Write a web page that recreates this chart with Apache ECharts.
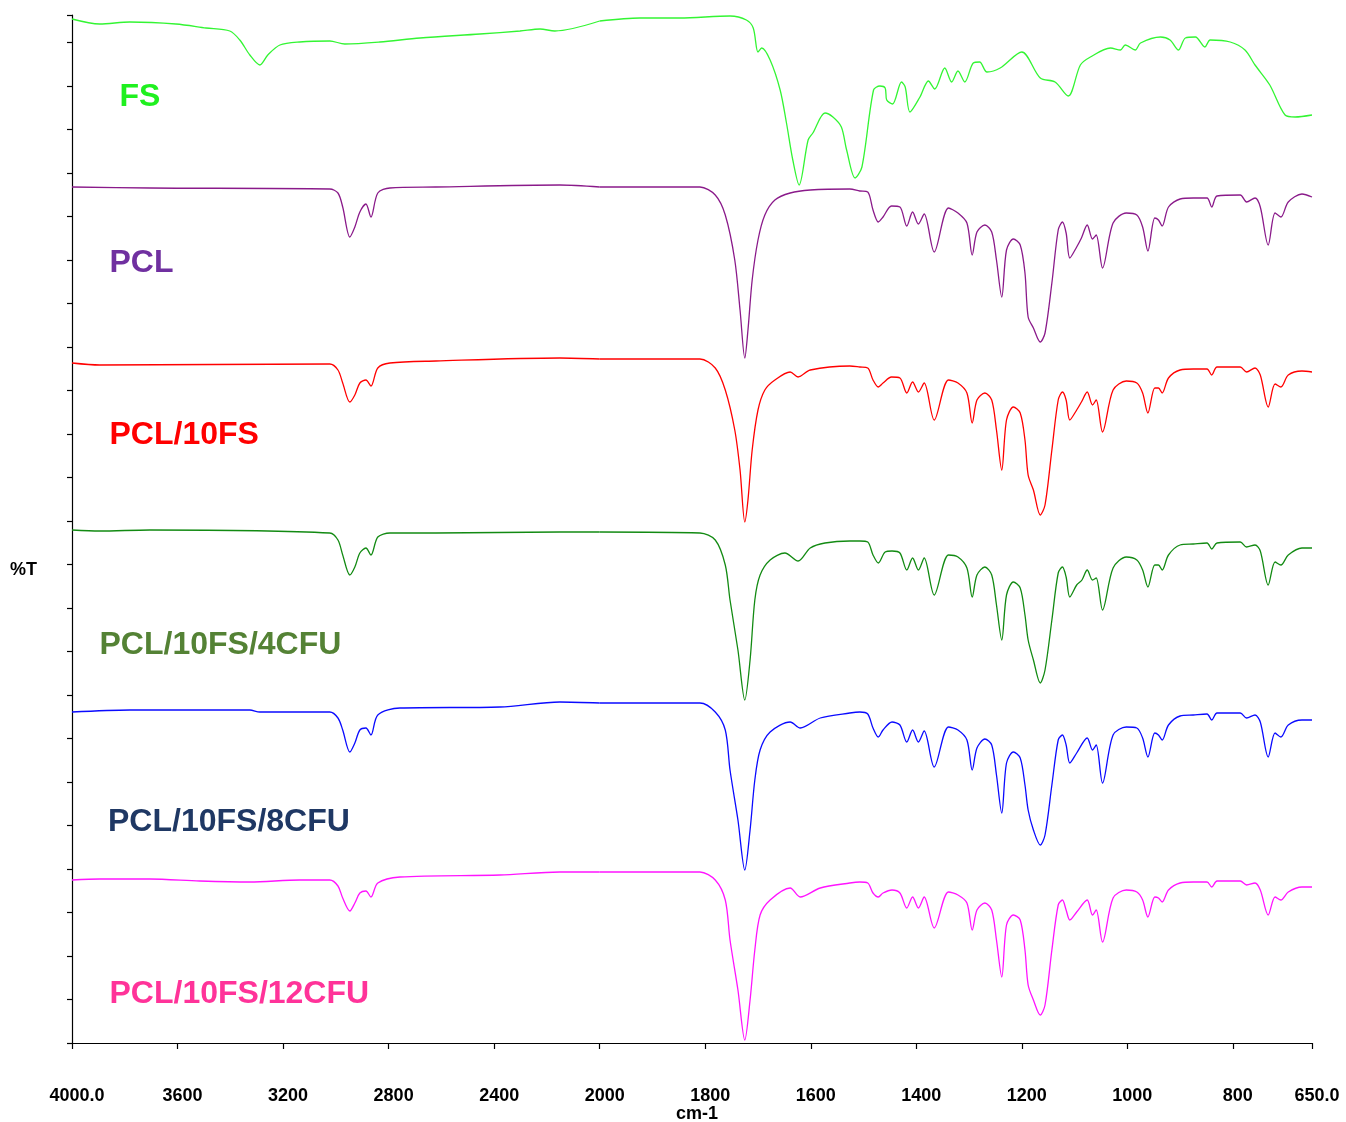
<!DOCTYPE html>
<html>
<head>
<meta charset="utf-8">
<title>FTIR spectra</title>
<script src="https://cdn.jsdelivr.net/npm/echarts@6/dist/echarts.min.js"></script>
<style>
  html, body { margin: 0; padding: 0; background: #ffffff; }
  #chart { width: 1346px; height: 1122px; }
</style>
</head>
<body>
<div id="chart"></div>
<script>
// Stacked FTIR transmittance spectra, [wavenumber (cm-1), %T (offset for stacking)]
const spectrumNames = ['FS', 'PCL', 'PCL/10FS', 'PCL/10FS/4CFU', 'PCL/10FS/8CFU', 'PCL/10FS/12CFU'];

const fsData = [
  [4000,102.4],[3895,101.9],[3781,102.1],[3606,101.9],[3492,101.5],[3402,101.2],[3364,100.3],
  [3326,98.8],[3288,97.8],[3258,98.8],[3212,99.8],[3137,100.1],[3023,100.2],[2966,99.9],
  [2833,100.1],[2681,100.5],[2454,100.9],[2302,101.2],[2226,101.4],[2170,101.2],[2000,102.2],
  [1924,102.5],[1848,102.5],[1753,102.7],[1722,102.3],[1709,101.5],[1700,99.1],[1693,99.5],
  [1677,98.3],[1658,95.3],[1646,92.0],[1634,88.3],[1622,85.8],[1605,90.3],[1596,91.0],
  [1573,93.0],[1558,92.6],[1542,91.6],[1532,89.3],[1516,86.5],[1503,87.6],[1481,95.3],
  [1469,95.7],[1459,95.5],[1456,94.3],[1445,93.9],[1428,96.1],[1421,95.6],[1412,93.1],
  [1393,94.6],[1377,96.2],[1365,95.4],[1346,97.5],[1333,96.1],[1321,97.2],[1308,96.1],
  [1292,98.0],[1280,98.1],[1266,97.1],[1241,97.5],[1200,99.1],[1165,96.5],[1137,96.1],
  [1112,94.7],[1089,97.8],[1070,98.6],[1032,99.5],[1013,99.3],[1004,99.8],[985,99.3],
  [975,100.0],[937,100.6],[919,100.3],[903,99.3],[890,100.5],[871,100.6],[853,99.6],
  [843,100.3],[805,100.1],[777,99.3],[758,97.8],[730,95.8],[701,92.8],[682,92.6],[650,92.8]
];

const pclData = [
  [4000,85.6],[3705,85.5],[3023,85.4],[2992,85.0],[2974,83.6],[2947,80.6],[2928,81.6],
  [2909,83.1],[2886,83.9],[2867,82.6],[2841,85.0],[2795,85.5],[2621,85.6],[2151,85.8],
  [2000,85.6],[1810,85.6],[1781,84.8],[1762,82.8],[1744,78.3],[1734,73.3],[1725,68.5],
  [1719,71.3],[1711,76.3],[1700,80.3],[1687,82.8],[1668,84.3],[1639,85.0],[1601,85.3],
  [1526,85.4],[1507,85.2],[1492,85.1],[1482,83.3],[1472,82.1],[1463,82.6],[1447,83.7],
  [1431,83.6],[1418,81.7],[1407,83.1],[1396,81.9],[1385,82.9],[1366,79.1],[1339,83.5],
  [1321,83.0],[1304,82.0],[1294,78.8],[1285,81.1],[1270,81.8],[1257,81.1],[1248,78.3],
  [1238,74.6],[1229,79.3],[1216,80.4],[1203,79.8],[1194,77.0],[1188,72.6],[1178,71.5],
  [1165,70.1],[1156,71.0],[1143,76.0],[1131,81.3],[1123,82.1],[1116,81.0],[1109,78.5],
  [1096,79.6],[1087,80.5],[1076,81.8],[1066,80.4],[1059,80.8],[1047,77.5],[1027,82.0],
  [1002,83.0],[982,82.8],[971,81.6],[961,79.2],[948,82.5],[941,82.3],[934,81.7],
  [922,83.6],[900,84.4],[875,84.5],[849,84.5],[840,83.6],[830,84.7],[786,84.8],
  [774,84.1],[758,84.5],[748,83.6],[733,79.8],[720,83.0],[709,82.6],[695,84.1],
  [669,84.9],[650,84.6]
];

const pcl10fsData = [
  [4000,68.0],[3895,67.8],[3023,67.9],[2992,67.3],[2974,66.0],[2947,64.1],[2928,64.8],
  [2909,66.0],[2886,66.3],[2867,65.7],[2841,67.5],[2795,68.0],[2621,68.2],[2151,68.5],
  [2000,68.4],[1810,68.4],[1781,67.5],[1762,65.3],[1744,61.3],[1734,57.3],[1725,52.1],
  [1719,54.3],[1711,59.3],[1700,63.3],[1687,65.3],[1668,66.3],[1639,67.1],[1624,66.6],
  [1601,67.3],[1526,67.7],[1507,67.6],[1492,67.5],[1482,66.3],[1472,65.6],[1463,66.0],
  [1447,66.6],[1431,66.5],[1418,65.0],[1407,66.1],[1396,65.1],[1385,66.0],[1366,62.3],
  [1339,66.3],[1321,66.0],[1304,65.0],[1294,62.0],[1285,64.3],[1270,65.0],[1257,64.3],
  [1248,61.3],[1238,57.3],[1229,62.3],[1216,63.6],[1203,63.0],[1194,60.3],[1188,56.8],
  [1178,55.3],[1165,52.8],[1156,53.8],[1143,59.3],[1131,64.3],[1123,65.1],[1116,64.3],
  [1109,62.3],[1096,63.3],[1087,64.1],[1076,65.1],[1066,63.8],[1059,64.3],[1047,61.1],
  [1027,65.3],[1002,66.2],[982,66.0],[971,65.0],[961,63.0],[948,65.5],[941,65.5],
  [934,65.0],[922,66.5],[900,67.3],[875,67.4],[849,67.4],[840,66.8],[830,67.6],
  [786,67.6],[774,67.1],[758,67.5],[748,66.8],[733,63.6],[720,65.9],[709,65.6],
  [695,66.8],[669,67.2],[650,67.1]
];

const cfu4Data = [
  [4000,51.3],[3895,51.2],[3705,51.3],[3023,51.0],[2992,50.3],[2974,48.8],[2947,46.8],
  [2928,47.6],[2909,49.0],[2886,49.5],[2867,48.8],[2841,50.6],[2795,51.0],[2621,51.0],
  [2151,51.1],[2000,51.1],[1810,51.0],[1781,50.3],[1762,47.8],[1753,44.3],[1738,39.3],
  [1725,34.3],[1715,38.3],[1706,44.3],[1696,46.8],[1677,48.3],[1649,49.0],[1624,48.2],
  [1601,49.5],[1573,50.0],[1526,50.2],[1507,50.2],[1492,50.1],[1482,48.8],[1472,48.0],
  [1459,49.1],[1446,49.2],[1431,49.0],[1418,47.3],[1407,48.5],[1396,47.3],[1385,48.5],
  [1366,44.8],[1339,48.8],[1321,48.6],[1304,47.5],[1294,44.6],[1285,46.8],[1270,47.6],
  [1257,46.8],[1248,43.8],[1238,40.3],[1229,44.8],[1216,46.1],[1203,45.5],[1194,42.8],
  [1188,40.3],[1178,38.3],[1165,36.0],[1156,37.3],[1143,42.3],[1131,47.0],[1123,47.6],
  [1116,46.6],[1109,44.6],[1096,45.8],[1086,46.3],[1076,47.3],[1066,46.3],[1059,46.5],
  [1047,43.3],[1027,47.5],[1002,48.6],[982,48.3],[971,47.3],[961,45.6],[948,47.8],
  [941,47.8],[934,47.3],[922,48.8],[900,49.8],[875,49.9],[849,50.0],[840,49.4],
  [830,50.0],[786,50.1],[774,49.6],[758,49.8],[748,49.2],[733,45.8],[720,48.1],
  [709,47.8],[695,48.8],[669,49.5],[650,49.5]
];

const cfu8Data = [
  [4000,33.1],[3781,33.3],[3326,33.3],[3288,33.1],[3023,33.1],[2992,32.5],[2974,31.3],
  [2947,29.1],[2928,30.0],[2909,31.3],[2886,31.5],[2867,30.8],[2841,32.8],[2757,33.5],
  [2378,33.6],[2151,34.1],[2000,34.0],[1810,34.0],[1781,33.1],[1762,31.3],[1753,27.3],
  [1738,22.3],[1725,17.3],[1715,21.3],[1706,26.3],[1696,29.3],[1677,31.1],[1639,32.1],
  [1620,31.5],[1582,32.5],[1526,33.0],[1507,33.1],[1492,32.9],[1482,31.5],[1472,30.6],
  [1463,31.3],[1446,32.1],[1431,31.8],[1418,30.1],[1407,31.3],[1396,30.1],[1385,31.2],
  [1366,27.6],[1339,31.6],[1321,31.3],[1304,30.3],[1294,27.3],[1285,29.5],[1270,30.4],
  [1257,29.8],[1248,26.8],[1238,23.0],[1229,28.0],[1216,29.1],[1203,28.5],[1194,25.8],
  [1188,23.3],[1178,21.3],[1165,19.8],[1156,20.8],[1143,25.8],[1131,30.3],[1123,30.8],
  [1116,29.8],[1109,28.0],[1096,29.0],[1076,30.5],[1066,29.3],[1059,29.8],[1047,26.0],
  [1027,30.8],[1002,31.6],[982,31.5],[971,30.5],[961,28.6],[948,31.0],[941,30.8],
  [934,30.3],[922,31.8],[900,32.7],[875,32.8],[849,32.9],[840,32.3],[830,33.0],
  [786,33.0],[774,32.5],[758,32.8],[748,32.1],[733,28.6],[720,31.0],[709,30.6],
  [695,31.8],[669,32.3],[650,32.3]
];

const cfu12Data = [
  [4000,16.3],[3895,16.4],[3705,16.4],[3516,16.2],[3326,16.1],[3137,16.3],[3023,16.3],
  [2992,15.7],[2974,14.5],[2947,13.2],[2928,14.0],[2909,15.0],[2886,15.2],[2867,14.6],
  [2841,16.0],[2757,16.6],[2378,16.8],[2151,17.1],[2000,17.1],[1810,17.1],[1781,16.3],
  [1762,14.3],[1753,10.3],[1738,5.3],[1725,0.3],[1715,4.3],[1706,9.3],[1696,12.8],
  [1677,14.3],[1639,15.5],[1620,14.6],[1582,15.5],[1526,16.0],[1507,16.1],[1492,16.0],
  [1482,15.0],[1472,14.6],[1463,15.0],[1446,15.3],[1431,15.0],[1418,13.5],[1407,14.6],
  [1396,13.5],[1385,14.6],[1366,11.5],[1339,15.1],[1321,14.8],[1304,14.0],[1294,11.3],
  [1285,13.3],[1270,14.0],[1257,13.3],[1248,10.3],[1238,6.6],[1229,11.8],[1216,12.8],
  [1203,12.3],[1194,9.3],[1188,5.8],[1178,4.3],[1165,2.8],[1156,3.8],[1143,9.3],
  [1131,13.8],[1123,14.3],[1116,13.3],[1109,12.3],[1096,13.1],[1076,14.3],[1066,12.8],
  [1059,13.3],[1047,10.1],[1027,14.5],[1002,15.3],[982,15.1],[971,14.3],[961,12.6],
  [948,14.6],[941,14.5],[934,14.1],[922,15.3],[900,16.0],[875,16.1],[849,16.1],
  [840,15.6],[830,16.2],[786,16.2],[774,15.8],[758,16.0],[748,15.3],[733,12.8],
  [720,14.6],[709,14.3],[695,15.1],[669,15.6],[650,15.6]
];

// x-axis tick labels: the scale doubles below 2000 cm-1
const highTicks = [4000, 3600, 3200, 2800, 2400, 2000];
const lowTicks = [1800, 1600, 1400, 1200, 1000, 800, 650];

const spectra = [fsData, pclData, pcl10fsData, cfu4Data, cfu8Data, cfu12Data];
const lineColors = ['#33f533', '#8a1a8a', '#ff0000', '#128a12', '#0a0aff', '#ff14ff'];
const labelColors = ['#1ff01f', '#7030a0', '#ff0000', '#548235', '#1f3864', '#ff3399'];
// label anchor (left x, middle y) of each spectrum name
const labelPos = [[119.5, 97.5], [109.5, 263], [109.5, 435.5], [99.5, 645], [108, 822], [109.5, 994]];

const FONT = '"Liberation Sans", Arial, Helvetica, sans-serif';
const split = (d, hi) => d.filter(p => hi ? p[0] >= 2000 : p[0] <= 2000);

const chart = echarts.init(document.getElementById('chart'), null, { renderer: 'canvas' });

const axisBase = {
  type: 'value',
  axisLine: { show: true, onZero: false, lineStyle: { color: '#000', width: 1.2 } },
  splitLine: { show: false }
};
const labelStyle = {
  color: '#000', fontFamily: FONT, fontWeight: 'bold', fontSize: 18, margin: 44,
  padding: [0, 0, 0, 10]
};

const series = [];
spectra.forEach((d, i) => {
  [true, false].forEach((hi, k) => {
    series.push({
      type: 'line',
      name: spectrumNames[i],
      xAxisIndex: k, yAxisIndex: k,
      data: split(d, hi),
      showSymbol: false,
      smooth: 0.3,
      lineStyle: { color: lineColors[i], width: 1.3 },
      silent: true
    });
  });
});

const option = {
  animation: false,
  backgroundColor: '#ffffff',
  grid: [
    { left: 72, width: 527.7, top: 15, height: 1028 },
    { left: 599.7, right: 34, top: 15, height: 1028 }
  ],
  xAxis: [
    Object.assign({}, axisBase, {
      gridIndex: 0, min: 2000, max: 4000, interval: 400, inverse: true,
      axisTick: { show: true, length: 6, lineStyle: { color: '#000', width: 1.2 } },
      axisLabel: Object.assign({}, labelStyle, {
        customValues: highTicks,
        formatter: v => v === 4000 ? '4000.0' : String(v)
      })
    }),
    Object.assign({}, axisBase, {
      gridIndex: 1, min: 650, max: 2000, inverse: true,
      axisTick: { show: true, length: 6, customValues: lowTicks, lineStyle: { color: '#000', width: 1.2 } },
      axisLabel: Object.assign({}, labelStyle, {
        customValues: lowTicks,
        formatter: v => v === 650 ? '650.0' : String(v)
      })
    })
  ],
  yAxis: [
    Object.assign({}, axisBase, {
      gridIndex: 0, min: 0, max: 102.8, interval: 4.35,
      axisTick: { show: true, length: 5, lineStyle: { color: '#000', width: 1.2 } },
      axisLabel: { show: false }
    }),
    Object.assign({}, axisBase, {
      gridIndex: 1, min: 0, max: 102.8, show: false
    })
  ],
  series: series,
  graphic: spectrumNames.map((name, i) => ({
    type: 'text',
    x: labelPos[i][0], y: labelPos[i][1],
    style: {
      text: name, fill: labelColors[i],
      font: 'bold 32px ' + FONT,
      align: 'left', verticalAlign: 'middle'
    }
  })).concat([
    { type: 'text', x: 23.5, y: 570,
      style: { text: '%T', fill: '#000', font: 'bold 18px ' + FONT, align: 'center', verticalAlign: 'middle' } },
    { type: 'text', x: 697, y: 1114,
      style: { text: 'cm-1', fill: '#000', font: 'bold 18px ' + FONT, align: 'center', verticalAlign: 'middle' } }
  ])
};

chart.setOption(option);
</script>
</body>
</html>
